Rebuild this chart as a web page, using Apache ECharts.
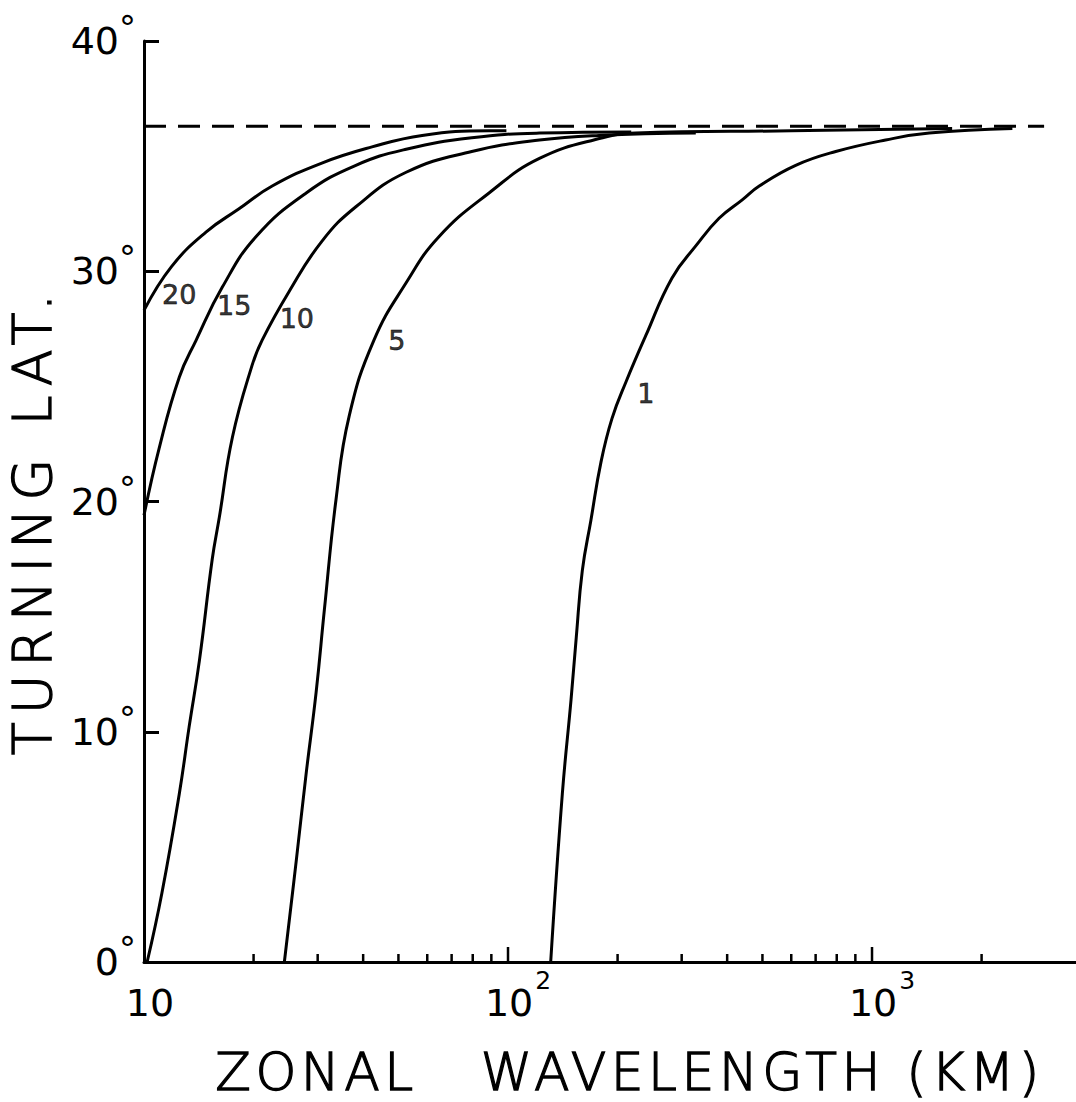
<!DOCTYPE html>
<html>
<head>
<meta charset="utf-8">
<script src="https://cdn.jsdelivr.net/npm/echarts@6/dist/echarts.min.js"></script>
<style>
html,body{margin:0;padding:0;background:#fff;}
#main{width:1076px;height:1102px;}
#main svg text{white-space:pre;}
#main svg text[style*="52px"]{letter-spacing:4.5px;stroke:#000;stroke-width:1.3px;}
#main svg text[style*="54px"]{letter-spacing:8px;stroke:#000;stroke-width:1.3px;}
#main svg text[style*="27px"]{stroke:#000;stroke-width:0.5px;}
</style>
</head>
<body>
<div id="main"></div>
<script>
// Zonal wavelength (km) vs turning latitude (deg), one curve per labelled parameter
const curve20 = [[10,28.3],[11.9,30.2],[14.8,31.7],[18.2,32.7],[22.5,33.7],[30.8,34.7],[42.3,35.4],[58.1,35.9],[88.7,36.1],[99,36.1]];
const curve15 = [[10,19.4],[11.0,22.3],[12.5,25.4],[13.9,27.0],[16.4,29.3],[20.3,31.5],[27.9,33.4],[38.2,34.6],[52.5,35.3],[79.5,35.8],[122,36.0],[218,36.05]];
const curve10 = [[10.2,0],[11.2,3.0],[12.5,7.3],[13.3,10.2],[14.2,13.1],[15.4,17.5],[16.1,19.3],[17.5,22.8],[19.8,25.9],[21.1,27.0],[25.0,29.1],[30.8,31.3],[38.2,32.8],[52.5,34.3],[79.5,35.2],[122,35.7],[178,35.9],[328,36.0]];
const curve5 = [[24.3,0],[26.2,4.4],[27.9,8.2],[29.7,11.7],[31.3,15.3],[33.7,20.1],[36.6,23.7],[42.8,27.0],[52.5,29.5],[64.6,31.5],[88.7,33.4],[122,34.9],[182,35.8],[224,36.0],[600,36.1],[1660,36.2]];
const curve1 = [[131,0],[141,7.3],[149,11.4],[154,14.1],[160,17.0],[169,19.2],[180,21.7],[193,23.6],[211,25.2],[239,27.2],[282,29.7],[328,31.1],[380,32.3],[440,33.1],[490,33.7],[617,34.6],[795,35.2],[1090,35.7],[1436,36.0],[2430,36.2]];
const asymptote = [[10,36.3],[2970,36.3]];
const curveNames = ['20','15','10','5','1'];
const labelAnchors = [[12.5,29.0],[17.7,28.5],[26.3,27.96],[49.5,27.0],[239,24.7]];
const xMajorTicks = [100,1000];
const xMinorTicks = [20,30,40,50,60,70,80,90,200,300,400,500,600,700,800,900,2000];
const yTickValues = [0,10,20,30,40];
const degreeMark = '°';
const xTitle = 'ZONAL   WAVELENGTH (KM)';
const yTitle = 'TURNING LAT.';

const FONT = "'DejaVu Sans'";
const INK = '#000';

const chart = echarts.init(document.getElementById('main'), null, {renderer:'svg', width:1076, height:1102});

function isPow10(v){ const l = Math.log10(v); return Math.abs(l - Math.round(l)) < 1e-6; }
function xLabel(v){
  if(!isPow10(v)) return '';
  const e = Math.round(Math.log10(v));
  if(e === 1) return '{b|10}';
  return '{p|10}{s|' + e + '}';
}
function tickSeries(values, len){
  return {
    type:'custom', silent:true, z:5,
    data: values.map(v => [v, 0]),
    renderItem: function(params, api){
      const p = api.coord([api.value(0), api.value(1)]);
      return {type:'line', shape:{x1:p[0], y1:p[1], x2:p[0], y2:p[1]-len}, style:{stroke:INK, lineWidth:2.5}};
    }
  };
}
function curveSeries(data){
  return {type:'line', data:data, showSymbol:false, smooth:0.45, lineStyle:{color:INK, width:3}, z:3};
}

const option = {
  animation:false,
  backgroundColor:'#fff',
  grid:{left:144, right:0, top:41, bottom:140, outerBoundsMode:'none'},
  xAxis:{
    type:'log', logBase:10, min:10, max:3634,
    axisLine:{lineStyle:{color:INK, width:3}},
    axisTick:{show:false}, minorTick:{show:false}, splitLine:{show:false},
    axisLabel:{
      margin:6, formatter:xLabel, showMaxLabel:false,
      rich:{
        b:{fontFamily:FONT, fontSize:38, color:INK, padding:[16,0,0,12]},
        p:{fontFamily:FONT, fontSize:38, color:INK, padding:[16,0,0,20]},
        s:{fontFamily:FONT, fontSize:25, color:INK, verticalAlign:'top', padding:[0,0,0,2]}
      }
    },
    name:xTitle, nameLocation:'middle', nameGap:88,
    nameTextStyle:{fontFamily:FONT, fontSize:52, fontWeight:200, lineHeight:44, color:INK, padding:[0,0,0,39]}
  },
  yAxis:{
    type:'value', min:0, max:40, interval:10,
    axisLine:{show:true, lineStyle:{color:INK, width:3}},
    axisTick:{show:true, inside:true, length:15, lineStyle:{color:INK, width:3}},
    splitLine:{show:false},
    axisLabel:{margin:25, fontFamily:FONT, fontSize:38, color:INK},
    name:yTitle, nameLocation:'middle', nameRotate:90, nameGap:73,
    nameTextStyle:{fontFamily:FONT, fontSize:54, fontWeight:200, color:INK, padding:[0,38,0,0]}
  },
  series:[
    curveSeries(curve20),
    curveSeries(curve15),
    curveSeries(curve10),
    curveSeries(curve5),
    curveSeries(curve1),
    {
      type:'custom', silent:true, z:2, clip:false,
      data:[asymptote[0].concat(asymptote[1])],
      renderItem: function(params, api){
        const a = api.coord([api.value(0), api.value(1)]);
        const b = api.coord([api.value(2), api.value(3)]);
        return {type:'line', shape:{x1:a[0], y1:a[1], x2:b[0], y2:b[1]}, style:{stroke:INK, lineWidth:3, lineDash:[22,12], lineDashOffset:0}};
      }
    },
    tickSeries(xMajorTicks, 15),
    tickSeries(xMinorTicks, 8),
    {
      type:'custom', silent:true, z:6, clip:false,
      data: yTickValues.map(v => [10, v]),
      renderItem: function(params, api){
        const p = api.coord([api.value(0), api.value(1)]);
        return {type:'text', style:{text:degreeMark, x:p[0]-8, y:p[1]-13, align:'right', verticalAlign:'middle', fontFamily:'DejaVu Sans', fontSize:34, fill:INK}};
      }
    },
    {
      type:'scatter', symbolSize:0, silent:true, z:6,
      data: curveNames.map((n,i) => ({name:n, value:labelAnchors[i]})),
      label:{show:true, position:'inside', formatter:'{b}', fontFamily:FONT, fontSize:27, color:INK}
    }
  ]
};
chart.setOption(option);
</script>
</body>
</html>
